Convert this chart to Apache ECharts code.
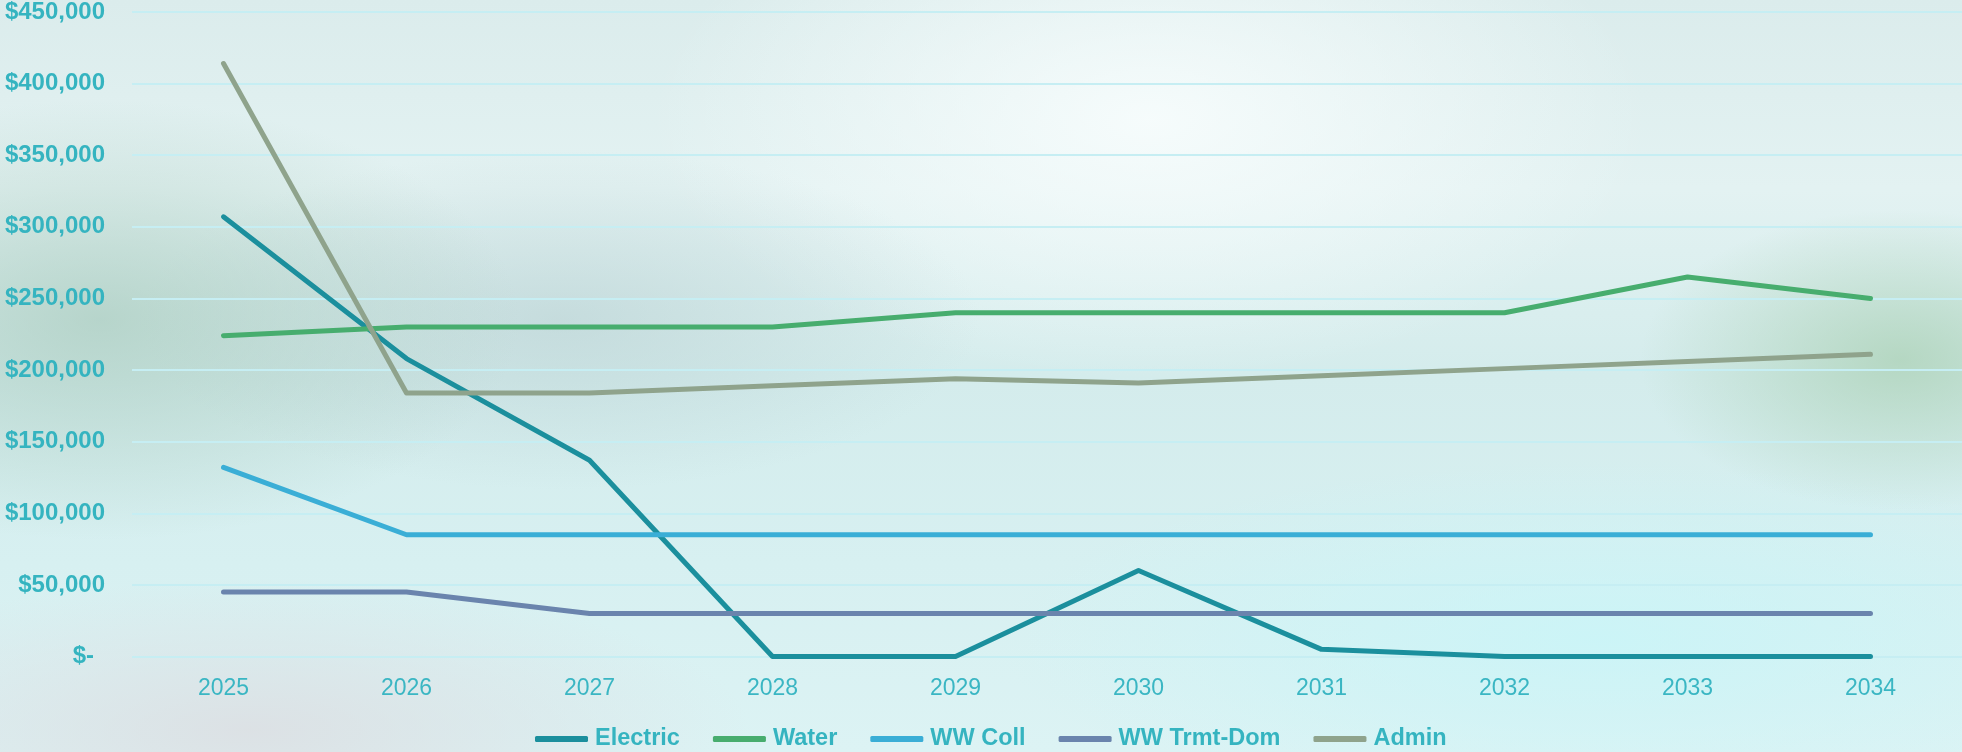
<!DOCTYPE html>
<html>
<head>
<meta charset="utf-8">
<script src="https://cdn.jsdelivr.net/npm/echarts@6/dist/echarts.min.js"></script>
<style>
html, body { margin: 0; padding: 0; width: 1962px; height: 752px; overflow: hidden; }
#bg {
  position: absolute; left: 0; top: 0; width: 1962px; height: 752px;
  background:
    radial-gradient(ellipse 420px 220px at 100px 320px, rgba(160,196,180,0.6), rgba(160,196,180,0) 100%),
    radial-gradient(ellipse 420px 170px at 560px 320px, rgba(178,202,204,0.5), rgba(178,202,204,0) 100%),
    radial-gradient(ellipse 260px 150px at 1900px 360px, rgba(170,208,180,0.75), rgba(170,208,180,0) 100%),
    radial-gradient(ellipse 500px 260px at 1150px 120px, rgba(248,253,253,0.9), rgba(248,253,253,0) 100%),
    radial-gradient(ellipse 600px 180px at 1600px 640px, rgba(200,245,248,0.8), rgba(200,245,248,0) 100%),
    radial-gradient(ellipse 500px 150px at 250px 730px, rgba(220,222,226,0.85), rgba(220,222,226,0) 100%),
    linear-gradient(180deg, #dbecec 0%, #e3f2f2 25%, #d4ecec 50%, #d7f0f1 75%, #dcf3f4 100%);
}
#chart { position: absolute; left: 0; top: 0; width: 1962px; height: 752px; }
</style>
</head>
<body>
<div id="bg"></div>
<div id="chart"></div>
<script>
const years = ['2025','2026','2027','2028','2029','2030','2031','2032','2033','2034'];
const electric = [307000, 208000, 137000, 0, 0, 60000, 5000, 0, 0, 0];
const water = [224000, 230000, 230000, 230000, 240000, 240000, 240000, 240000, 265000, 250000];
const wwColl = [132000, 85000, 85000, 85000, 85000, 85000, 85000, 85000, 85000, 85000];
const wwTrmtDom = [45000, 45000, 30000, 30000, 30000, 30000, 30000, 30000, 30000, 30000];
const admin = [414000, 184000, 184000, 189000, 194000, 191000, 196000, 201000, 206000, 211000];

const seriesNames = ['Electric', 'Water', 'WW Coll', 'WW Trmt-Dom', 'Admin'];
const seriesData = [electric, water, wwColl, wwTrmtDom, admin];
const colors = ['#1b8f9d', '#47ad6e', '#3aaed6', '#6a84ad', '#8fa38c'];

const chart = echarts.init(document.getElementById('chart'), null, { renderer: 'canvas' });
const fontFamily = '"Liberation Sans", Arial, sans-serif';

chart.setOption({
  backgroundColor: 'transparent',
  color: colors,
  animation: false,
  grid: { left: 132, right: 0, top: 12, bottom: 95.5, containLabel: false },
  legend: {
    bottom: -4,
    left: 530,
    padding: 5,
    icon: 'roundRect',
    itemWidth: 53,
    itemHeight: 6,
    itemGap: 33,
    textStyle: { color: '#35b4c0', fontSize: 23.5, fontWeight: 'bold', fontFamily: fontFamily, padding: [0, 0, 0, 2] },
    data: seriesNames
  },
  xAxis: {
    type: 'category',
    data: years,
    boundaryGap: true,
    axisLine: { show: false },
    axisTick: { show: false },
    axisLabel: { color: '#3ab6c3', fontSize: 23, fontFamily: fontFamily, margin: 21 }
  },
  yAxis: {
    type: 'value',
    min: 0,
    max: 450000,
    interval: 50000,
    axisLine: { show: false },
    axisTick: { show: false },
    splitLine: { lineStyle: { color: '#c6eef3', width: 2 } },
    axisLabel: {
      color: '#35b4c0', fontSize: 24, fontWeight: 'bold', fontFamily: fontFamily, margin: 27,
      formatter: function (v) {
        if (v === 0) return '{z|$-}';
        return '$' + v.toLocaleString('en-US');
      },
      rich: {
        z: { color: '#35b4c0', fontSize: 24, fontWeight: 'bold', fontFamily: fontFamily, padding: [0, 11, 0, 0] }
      }
    }
  },
  series: seriesNames.map((n, i) => ({
    name: n,
    type: 'line',
    data: seriesData[i],
    symbol: 'none',
    lineStyle: { width: 5, cap: 'round', join: 'round' },
    z: 2
  }))
});
</script>
</body>
</html>
